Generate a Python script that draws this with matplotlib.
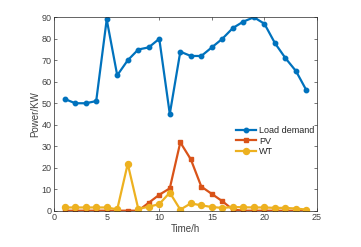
import matplotlib
matplotlib.use('Agg')
import matplotlib.pyplot as plt

hours = list(range(1, 25))
load_demand = [52, 50, 50, 51, 89, 63, 70, 75, 76, 80, 45, 74,
               72, 72, 76, 80, 85, 88, 90, 87, 78, 71, 65, 56]
pv = [0, 0, 0, 0, 0, 0, 0, 0, 3.7, 7.4, 10.4, 31.8,
      23.9, 11.2, 7.8, 4.4, 0.5, 0, 0, 0, 0, 0, 0, 0]
wt = [1.5, 1.5, 1.5, 1.5, 1.5, 0.6, 21.8, 0.9, 1.8, 3.1, 8.4, 0.5,
      3.4, 2.5, 1.7, 1.3, 1.7, 1.6, 1.5, 1.5, 1.3, 1.3, 1.0, 0.5]

plt.rcParams['font.family'] = ['Liberation Sans', 'DejaVu Sans']
txt = '#404040'

fig = plt.figure(figsize=(3.61, 2.47), dpi=100)
ax = fig.add_axes([0.15, 0.147, 0.728, 0.783])

ax.plot(hours, load_demand, color='#0072BD', lw=1.6, marker='o', ms=3.2, label='Load demand')
ax.plot(hours, pv, color='#D95319', lw=1.6, marker='s', ms=3.2, label='PV')
ax.plot(hours, wt, color='#EDB120', lw=1.6, marker='o', ms=4.3, label='WT')

ax.set_xlim(0, 25)
ax.set_ylim(0, 90)
ax.set_xticks([0, 5, 10, 15, 20, 25])
ax.set_yticks(range(0, 91, 10))
ax.tick_params(direction='in', labelsize=6.5, colors=txt, length=2.5, width=0.5,
               top=True, right=True, pad=2)
for s in ax.spines.values():
    s.set_linewidth(0.5)
    s.set_color('#262626')
ax.set_xlabel('Time/h', fontsize=7, color=txt, labelpad=1)
ax.set_ylabel('Power/KW', fontsize=7, color=txt, labelpad=1)

leg = ax.legend(loc='upper left', bbox_to_anchor=(0.68, 0.455), frameon=False, fontsize=6.5,
                handlelength=2.2, handletextpad=0.3, labelspacing=0.15, borderaxespad=0)
for t in leg.get_texts():
    t.set_color('#262626')

fig.savefig('out.png', dpi=100)
